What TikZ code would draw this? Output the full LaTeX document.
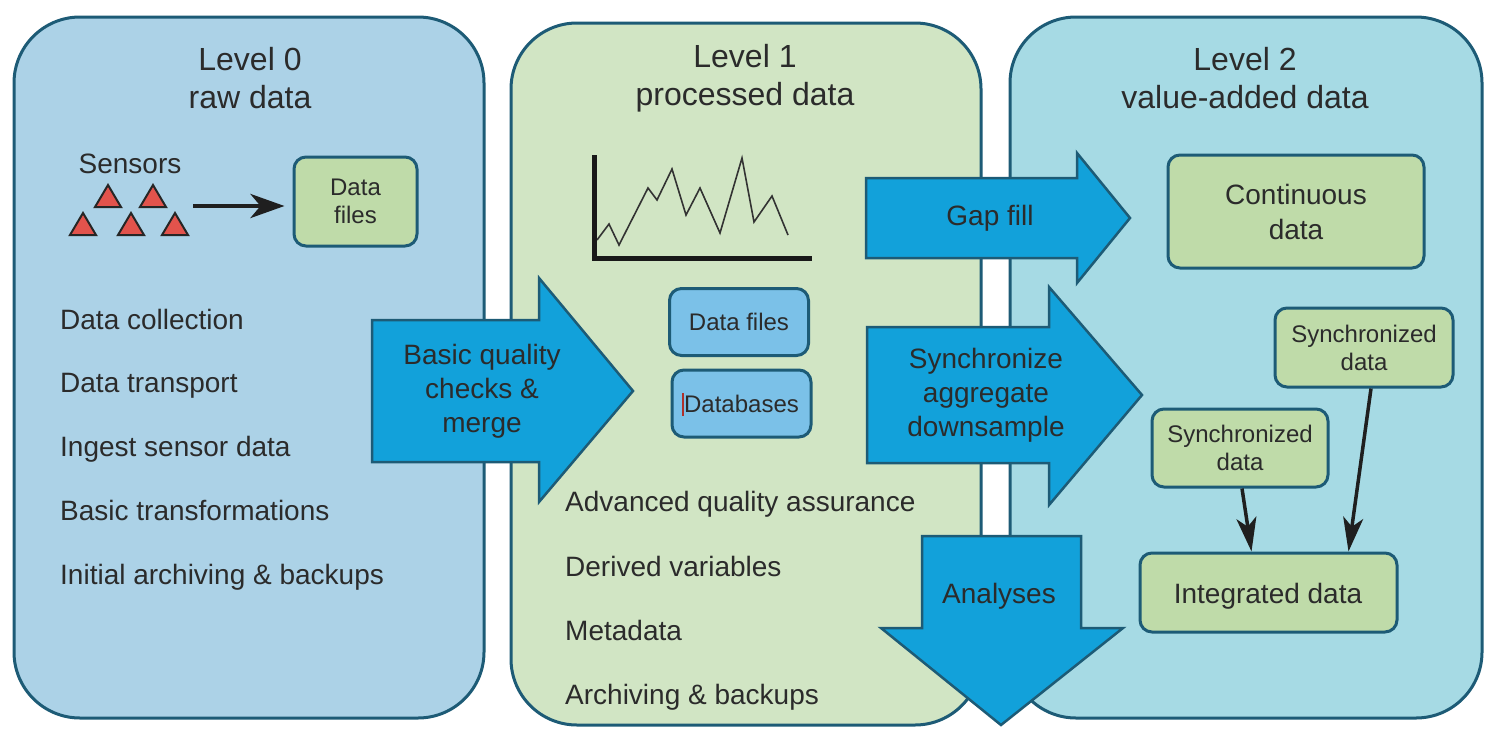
\documentclass[tikz,border=0pt]{standalone}
\usepackage{fontspec}
\setmainfont{Liberation Sans}
\usetikzlibrary{arrows.meta}
\definecolor{pborder}{HTML}{1D5B76}
\definecolor{pzero}{HTML}{ACD2E7}
\definecolor{pone}{HTML}{D1E5C4}
\definecolor{ptwo}{HTML}{A6DAE4}
\definecolor{bigarrow}{HTML}{12A1DA}
\definecolor{gboxc}{HTML}{BFDBA9}
\definecolor{bboxc}{HTML}{7BC1E8}
\definecolor{txt}{HTML}{2B2B2B}
\definecolor{tri}{HTML}{E2534C}
\definecolor{cursorc}{HTML}{B0302A}
\begin{document}
\begin{tikzpicture}[x=1pt,y=-1pt,
 panel/.style={draw=pborder,line width=3pt,rounded corners=66pt},
 bigarr/.style={draw=pborder,fill=bigarrow,line width=2.5pt,line join=miter},
 gbox/.style={draw=pborder,fill=gboxc,line width=3pt,rounded corners=12pt,text=txt,align=center,inner sep=0pt},
 bbox/.style={draw=pborder,fill=bboxc,line width=3pt,rounded corners=12pt,text=txt,align=center,inner sep=0pt},
 ttl/.style={text=txt,align=center,inner sep=0pt,font=\fontsize{32}{38}\selectfont},
 item/.style={text=txt,anchor=base west,inner sep=0pt,font=\fontsize{28}{32}\selectfont},
 alabel/.style={text=txt,align=center,inner sep=0pt,font=\fontsize{28}{34}\selectfont},
 midtxt/.style={font=\fontsize{28}{35}\selectfont},
 smalltxt/.style={font=\fontsize{24}{28}\selectfont},
 blk/.style={draw=black!88,line width=4.5pt,-{Stealth[length=34pt,width=24pt,inset=10pt]}},
 blkthin/.style={draw=black!88,line width=3.5pt,-{Stealth[length=34pt,width=20pt,inset=9pt]}},
 sensor/.style={draw=black!85,fill=tri,line width=2pt,line join=miter},
]
\useasboundingbox (0,0) rectangle (1496,742);
\fill[white] (0,0) rectangle (1496,742);

% panels
\draw[panel,fill=pzero] (14,17) rectangle (484,718);
\draw[panel,fill=pone] (511,23) rectangle (981,725);
\draw[panel,fill=ptwo] (1010,17) rectangle (1482,718);

% titles
\node[ttl] (t0) at (250,78) {Level 0\\raw data};
\node[ttl] (t1) at (745,78) {Level 1\\processed data};
\node[ttl] (t2) at (1245,78) {Level 2\\value-added data};

% big arrows
\draw[bigarr] (372,320) -- (539,320) -- (539,278) -- (633,391) -- (539,502) -- (539,462) -- (372,462) -- cycle;
\draw[bigarr] (866,178) -- (1077,178) -- (1077,153) -- (1130,218) -- (1077,283) -- (1077,258) -- (866,258) -- cycle;
\draw[bigarr] (867,327) -- (1049,327) -- (1049,287) -- (1142,395) -- (1049,505) -- (1049,463) -- (867,463) -- cycle;
\draw[bigarr] (922,536) -- (1081,536) -- (1081,628) -- (1123,628) -- (1001,725) -- (881,628) -- (922,628) -- cycle;

\node[alabel] (aqc) at (482,391) {Basic quality\\checks \&\\merge};
\node[alabel] (agf) at (990,218) {Gap fill};
\node[alabel] (asy) at (986,395) {Synchronize\\aggregate\\downsample};
\node[alabel] (aan) at (999,596) {Analyses};

% level 0 content
\node[text=txt,anchor=base,inner sep=0pt,font=\fontsize{28}{34}\selectfont] (sens) at (130,173) {Sensors};
\foreach \cx/\cy in {108/207,153/207,83/235,131/235,175/235}{
  \draw[sensor] ({\cx-13},\cy) -- ({\cx+13},\cy) -- (\cx,{\cy-22}) -- cycle;
}
\coordinate (sensR) at (193,206);
\node[gbox,smalltxt,minimum width=123pt,minimum height=89pt] (df0) at (355.5,201.5) {Data\\files};
\draw[blk] (sensR) -- ([xshift=-8pt]sensR -| df0.west);

\node[item] (l0a) at (60,329) {Data collection};
\node[item] (l0b) at (60,392) {Data transport};
\node[item] (l0c) at (60,456) {Ingest sensor data};
\node[item] (l0d) at (60,520) {Basic transformations};
\node[item] (l0e) at (60,584) {Initial archiving \& backups};

% level 1 content
\draw[black!80,line width=1.6pt,line join=miter] (597,240) -- (609,224) -- (619,245) -- (648,188) -- (657,200) -- (672,169) -- (686,215) -- (700,188) -- (720,233) -- (742,158) -- (754,222) -- (772,196) -- (788,235);
\draw[black!90,line width=5pt,line join=miter] (594,155) -- (594,258) -- (812,258);

\node[bbox,smalltxt,minimum width=139pt,minimum height=67pt] (df1) at (739,322) {Data files};
\node[bbox,smalltxt,minimum width=139pt,minimum height=67pt] (db1) at (741.5,403.5) {Databases};
\draw[cursorc,line width=1.5pt] (683,393) -- (683,416);

\node[item] (l1a) at (565,511) {Advanced quality assurance};
\node[item] (l1b) at (565,576) {Derived variables};
\node[item] (l1c) at (565,640) {Metadata};
\node[item] (l1d) at (565,704) {Archiving \& backups};

% level 2 content
\node[gbox,midtxt,minimum width=256pt,minimum height=113pt] (cont) at (1296,211.5) {Continuous\\data};
\node[gbox,smalltxt,minimum width=178pt,minimum height=79pt] (sd1) at (1364,347.5) {Synchronized\\data};
\node[gbox,smalltxt,minimum width=176pt,minimum height=78pt] (sd2) at (1240,448) {Synchronized\\data};
\node[gbox,minimum width=257pt,minimum height=79pt] (integ) at (1268.5,592.5) {};
\node[text=txt,inner sep=0pt,font=\fontsize{28}{34}\selectfont] (integt) at (1268,596) {Integrated data};

\draw[blkthin] ([xshift=2pt]sd2.south) -- ([xshift=-17pt]integ.north);
\draw[blkthin] ([xshift=7pt]sd1.south) -- ([xshift=80pt]integ.north);
\end{tikzpicture}
\end{document}
